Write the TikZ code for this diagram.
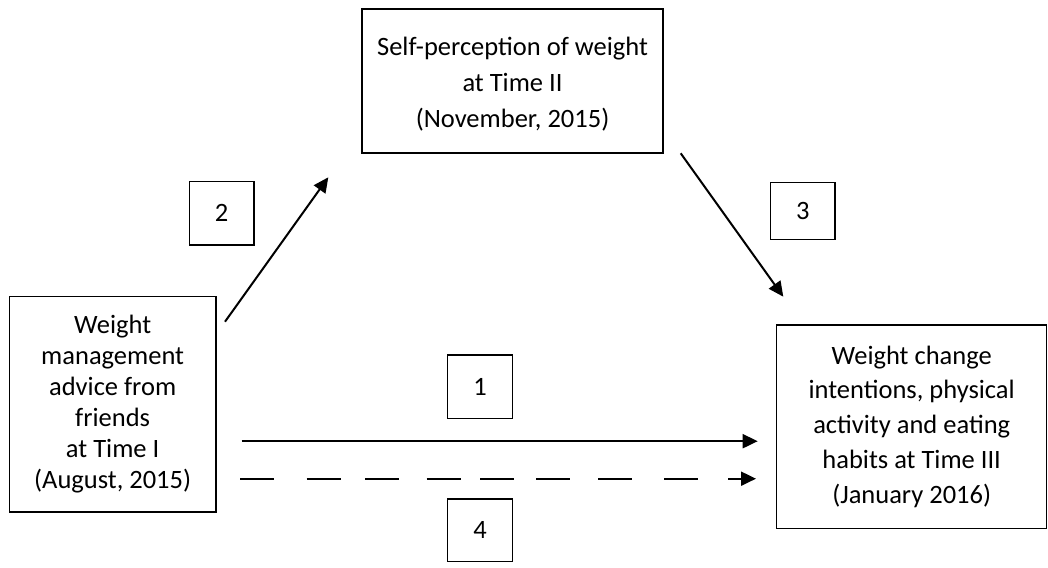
\documentclass[tikz,border=0pt]{standalone}
\usepackage{fontspec}
\setmainfont{Carlito}
\usetikzlibrary{arrows.meta}

\tikzset{
  frame/.style={draw, line width=1.3pt, inner sep=0pt, outer sep=0pt, align=center},
  numbox/.style={frame, font=\fontsize{26.5}{30}\selectfont},
  link/.style={line width=2pt, -{Triangle[length=15pt,width=14pt]}},
  brokenlink/.style={link, dash pattern=on 34pt off 32.7pt on 34pt off 24.3pt on 34pt off 27.7pt on 34pt off 19.3pt on 34pt off 22pt on 34pt off 28.3pt on 34pt off 31.7pt on 34pt off 30.3pt}
}

\begin{document}
\begin{tikzpicture}[x=1pt, y=-1pt]
  \useasboundingbox (0,0) rectangle (1048,567);

  % main variables
  \node[frame, minimum width=206.7pt, minimum height=215.3pt,
        font=\fontsize{26.5}{31}\selectfont] (advice) at (112.65,404.35)
    {Weight\\management\\advice from\\friends\\at Time I\\(August, 2015)};
  \node[frame, minimum width=301pt, minimum height=144pt] (percep) at (512.5,81) {};
  \node[inner sep=0pt, align=center, font=\fontsize{26.5}{36}\selectfont]
    (perceptext) at (512.5,84)
    {Self-perception of weight\\at Time II\\(November, 2015)};
  \node[frame, minimum width=270pt, minimum height=203.3pt,
        font=\fontsize{26.5}{34.8}\selectfont] (outcome) at (911.7,426.65)
    {Weight change\\intentions, physical\\activity and eating\\habits at Time III\\(January 2016)};

  % path numbers
  \node[numbox, minimum width=65.4pt, minimum height=63.3pt] (n1) at (480,386.65) {1};
  \node[numbox, minimum width=64.7pt, minimum height=63.3pt] (n2) at (221.65,213.35) {2};
  \node[numbox, minimum width=64.3pt, minimum height=57pt] (n3) at (802.85,210.8) {3};
  \node[numbox, minimum width=65.4pt, minimum height=62.7pt] (n4) at (480,530.35) {4};

  % arrow end points
  \coordinate (a2s) at (225,321.7);
  \coordinate (a2e) at (328.3,177.3);
  \coordinate (a3s) at (680.7,153.3);
  \coordinate (a3e) at (783.3,296.7);
  \coordinate (a1s) at (241.7,441.2);
  \coordinate (a1e) at (757.7,441.2);
  \coordinate (a4s) at (240,478.7);
  \coordinate (a4e) at (756,478.7);

  \draw[link] (a2s) -- (a2e);
  \draw[link] (a3s) -- (a3e);
  \draw[link] (a1s) -- (a1e);
  \draw[brokenlink] (a4s) -- (a4e);
\end{tikzpicture}
\end{document}
